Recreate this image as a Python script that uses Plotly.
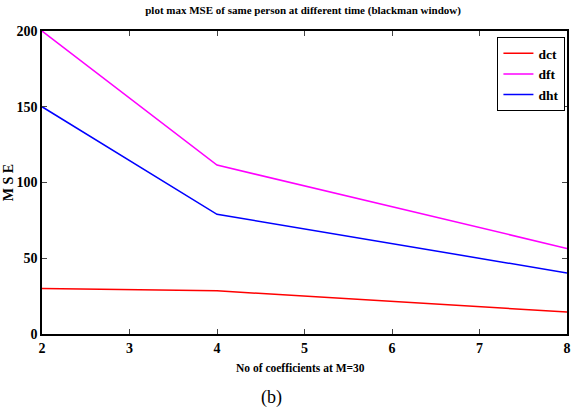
import plotly.graph_objects as go

x = [2, 4, 8]
dct = [30, 28.5, 14.5]
dft = [200, 111.5, 56.5]
dht = [150, 79, 40.3]
x_ticks = [2, 3, 4, 5, 6, 7, 8]
y_ticks = [0, 50, 100, 150, 200]

fig = go.Figure()
fig.add_trace(go.Scatter(x=x, y=dct, mode="lines", name="<b>dct</b>", line=dict(color="#ff0000", width=1.5)))
fig.add_trace(go.Scatter(x=x, y=dft, mode="lines", name="<b>dft</b>", line=dict(color="#ff00ff", width=1.5)))
fig.add_trace(go.Scatter(x=x, y=dht, mode="lines", name="<b>dht</b>", line=dict(color="#0000ff", width=1.5)))

font = "Times New Roman"
fig.update_layout(
    width=573, height=416,
    margin=dict(l=42, r=2, t=31, b=82),
    paper_bgcolor="white", plot_bgcolor="white",
    font=dict(family=font, color="black"),
    title=dict(text="<b>plot max MSE of same person at different time (blackman window)</b>",
               x=0.529, xanchor="center", y=0.985, yanchor="top", font=dict(size=11, family=font)),
    xaxis=dict(range=[2, 8], tickvals=x_ticks,
               ticktext=["<b>%d</b>" % v for v in x_ticks],
               ticks="inside", ticklen=5,
               showline=True, linecolor="black", linewidth=1.5, mirror="ticks", showgrid=False,
               zeroline=False, tickfont=dict(size=14, family=font)),
    yaxis=dict(range=[0, 200], tickvals=y_ticks,
               ticktext=["<b>%d</b>" % v for v in y_ticks],
               ticks="inside", ticklen=5,
               showline=True, linecolor="black", linewidth=1.5, mirror="ticks", showgrid=False,
               zeroline=False, tickfont=dict(size=14, family=font),
               title=dict(text="<b>M S E</b>", font=dict(size=14, family=font), standoff=0)),
    legend=dict(x=0.997, y=0.98, xanchor="right", yanchor="top", bgcolor="white",
                bordercolor="black", borderwidth=1, font=dict(size=13.5, family=font),
                itemwidth=30, tracegroupgap=0),
    showlegend=True,
)
fig.add_annotation(text="<b>No of coefficients at M=30</b>", xref="paper", yref="paper",
                   x=0.493, y=-0.112, showarrow=False, xanchor="center", yanchor="middle",
                   font=dict(size=11.5, family=font))
fig.add_annotation(text="(b)", xref="paper", yref="paper", x=0.437, y=-0.211, showarrow=False,
                   xanchor="center", yanchor="middle", font=dict(size=18, family=font))

fig.write_html("out.html")
